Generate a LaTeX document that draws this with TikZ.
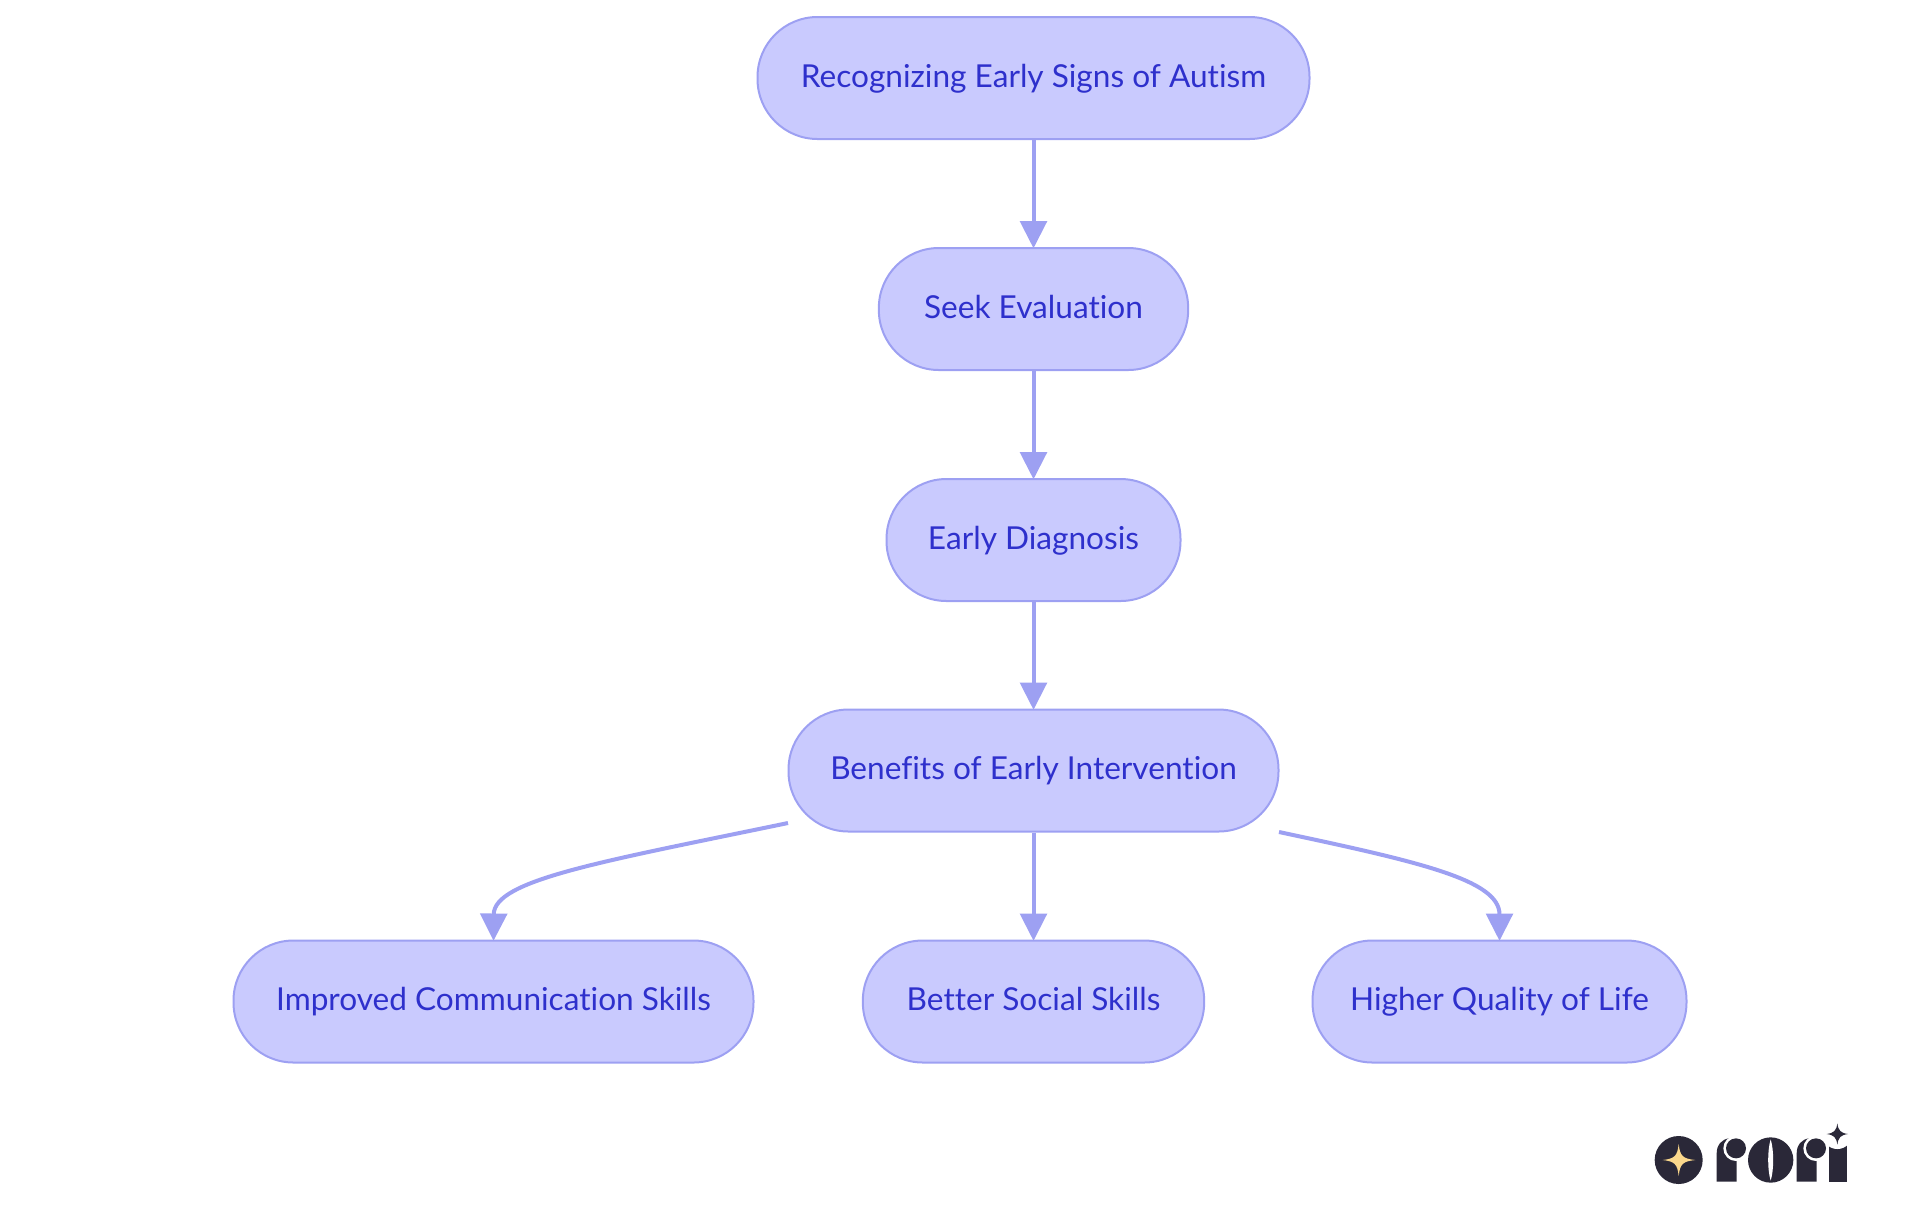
\documentclass[tikz,border=0pt]{standalone}
\usepackage{fontspec}
\setmainfont{Lato}[Ligatures=NoCommon]
\usetikzlibrary{arrows.meta}
\definecolor{pillfill}{HTML}{C9CAFE}
\definecolor{pillline}{HTML}{9DA0F2}
\definecolor{pilltext}{HTML}{2E30CC}
\definecolor{logodark}{HTML}{2A2838}
\definecolor{logogold}{HTML}{FBD88C}
\begin{document}
\begin{tikzpicture}[x=0.75pt,y=-0.75pt,
	pill/.style={draw=pillline,fill=pillfill,line width=1.5pt,rounded corners=45pt,
		minimum height=91.5pt,inner sep=0pt,text=pilltext,text height=16.5pt,text depth=2.5pt,
		font=\fontsize{23.7}{28}\selectfont},
	flow/.style={draw=pillline,line width=3pt,shorten >=-1pt,-{Triangle[length=20.5pt,width=20pt,fill=pillline]}},
	]
	\useasboundingbox (0,0) rectangle (1920,1215);
	\node[pill,minimum width=414pt] (recognizing) at (1033.5,78) {Recognizing Early Signs of Autism};
	\node[pill,minimum width=232pt] (seek) at (1033.5,309) {Seek Evaluation};
	\node[pill,minimum width=220.5pt] (diagnosis) at (1033.5,540) {Early Diagnosis};
	\node[pill,minimum width=367.5pt] (benefits) at (1033.5,770.5) {Benefits of Early Intervention};
	\node[pill,minimum width=390pt] (improved) at (493.5,1001.5) {Improved Communication Skills};
	\node[pill,minimum width=256pt] (better) at (1033.5,1001.5) {Better Social Skills};
	\node[pill,minimum width=280.5pt] (higher) at (1499.5,1001.5) {Higher Quality of Life};
	\coordinate (leftstart) at (788,823); %left curve
	\coordinate (rightstart) at (1279,832); %right curve
	\foreach \a/\b in {recognizing/seek,seek/diagnosis,diagnosis/benefits,benefits/better}{ %straight
		\draw[flow] (\a.south) -- (\b.north);
	}
	\draw[flow] (leftstart) .. controls (600,862) and (494,880) .. (improved.north);
	\draw[flow] (rightstart) .. controls (1420,862) and (1499.5,880) .. (higher.north);
	\begin{scope}[shift={(1640,1110)},x=0.25pt,y=-0.25pt] %logo
		\fill[logodark] (116,150) circle (72);
		\fill[logogold] (116,102) .. controls (120,138) and (128,146) .. (166,150)
			.. controls (128,154) and (120,162) .. (116,198)
			.. controls (112,162) and (104,154) .. (68,150)
			.. controls (104,146) and (112,138) .. (116,102) -- cycle;
		\foreach \s in {0,240}{ %r
			\fill[logodark] (230+\s,215) -- (230+\s,130) .. controls (230+\s,105) and (245+\s,87) .. (268+\s,85)
				-- (290+\s,85) -- (290+\s,215) -- cycle;
			\fill[white] (288+\s,115) circle (38);
			\fill[logodark] (288+\s,115) circle (30);
		}
		\fill[logodark] (392,150) circle (68); %o
		\fill[white] (392,88) .. controls (402,120) and (402,180) .. (392,212)
			.. controls (382,180) and (382,120) .. (392,88) -- cycle;
		\fill[logodark] (566,215) rectangle (620,105); %i
		\fill[white] (592,72) circle (45);
		\fill[logodark] (592,40) .. controls (595,62) and (602,69) .. (624,72)
			.. controls (602,75) and (595,82) .. (592,104)
			.. controls (589,82) and (582,75) .. (560,72)
			.. controls (582,69) and (589,62) .. (592,40) -- cycle;
	\end{scope}
\end{tikzpicture}
\end{document}
